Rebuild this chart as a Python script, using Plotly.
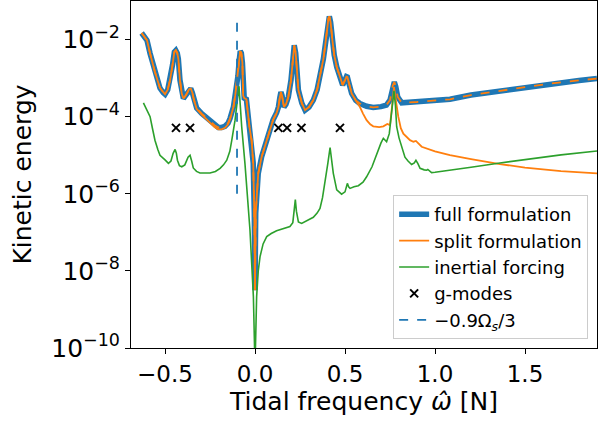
import plotly.graph_objects as go

# ---- data (log10 of kinetic energy) ----
full_x = [-0.63, -0.61, -0.60, -0.583, -0.556, -0.528, -0.51, -0.50, -0.485, -0.472, -0.458, -0.448,
          -0.44, -0.432, -0.426, -0.417, -0.407, -0.398, -0.385, -0.365, -0.357, -0.348, -0.339,
          -0.324, -0.296, -0.27, -0.25, -0.225, -0.204, -0.185, -0.167, -0.15, -0.139, -0.12,
          -0.11, -0.105, -0.10, -0.095, -0.088, -0.082, -0.076, -0.07, -0.066, -0.06, -0.048,
          -0.04, -0.03, -0.019, -0.01, -0.004, 0.0, 0.004, 0.01, 0.018, 0.037, 0.065, 0.10, 0.12,
          0.13, 0.138, 0.144, 0.15, 0.161, 0.172, 0.185, 0.20, 0.21, 0.218, 0.226, 0.233, 0.241,
          0.26, 0.278, 0.30, 0.324, 0.345, 0.361, 0.38, 0.389, 0.40, 0.408, 0.413, 0.42, 0.43,
          0.44, 0.454, 0.475, 0.487, 0.50, 0.508, 0.513, 0.52, 0.537, 0.56, 0.583, 0.62, 0.657,
          0.70, 0.73, 0.75, 0.765, 0.774, 0.782, 0.793, 0.815, 0.90, 1.0, 1.083, 1.2, 1.361,
          1.5, 1.639, 1.8, 1.9]
full_log = [-1.83, -1.95, -2.02, -2.36, -2.84, -3.26, -3.38, -3.42, -3.30, -3.05, -2.65, -2.32,
            -2.28, -2.35, -2.50, -3.05, -3.40, -3.53, -3.45, -3.28, -3.27, -3.38, -3.57,
            -3.78, -3.92, -4.03, -4.13, -4.22, -4.28, -4.28, -4.25, -4.17, -4.05, -3.75,
            -3.45, -3.23, -3.05, -2.95, -2.55, -2.30, -2.35, -2.60, -3.45, -3.52, -3.55,
            -3.90, -4.30, -4.61, -5.20, -6.50, -8.50, -6.50, -5.90, -5.47, -5.04, -4.61, -4.09, -3.90,
            -3.75, -3.50, -3.36, -3.45, -3.75, -3.68, -3.49, -3.05, -2.55, -2.15, -2.35, -2.90, -3.31,
            -3.65, -3.83, -3.75, -3.57, -3.30, -2.97, -2.50, -2.19, -1.75, -1.45, -1.40, -1.55, -2.02,
            -2.40, -2.71, -3.02, -3.18, -3.05, -2.96, -2.97, -3.10, -3.40, -3.58, -3.66, -3.73, -3.76,
            -3.74, -3.70, -3.57, -3.20, -3.10, -3.22, -3.49, -3.64, -3.62, -3.58, -3.55, -3.44, -3.33,
            -3.24, -3.14, -3.06, -3.01]

split_x = [-0.63, -0.61, -0.60, -0.583, -0.556, -0.528, -0.51, -0.50, -0.485, -0.472, -0.458, -0.448,
           -0.44, -0.432, -0.426, -0.417, -0.407, -0.398, -0.385, -0.365, -0.357, -0.348, -0.339,
           -0.324, -0.296, -0.27, -0.25, -0.225, -0.204, -0.185, -0.167, -0.15, -0.139, -0.12,
           -0.11, -0.105, -0.10, -0.095, -0.088, -0.082, -0.076, -0.07, -0.066, -0.06, -0.048,
           -0.04, -0.03, -0.019, -0.01, -0.004, 0.0, 0.004, 0.01, 0.018, 0.037, 0.065, 0.10, 0.12,
           0.13, 0.138, 0.144, 0.15, 0.161, 0.172, 0.185, 0.20, 0.21, 0.218, 0.226, 0.233, 0.241,
           0.26, 0.278, 0.30, 0.324, 0.345, 0.361, 0.38, 0.389, 0.40, 0.408, 0.413, 0.42, 0.43,
           0.44, 0.454, 0.475, 0.487, 0.50, 0.508, 0.513, 0.52, 0.537, 0.56, 0.583, 0.60, 0.62,
           0.64, 0.657, 0.69, 0.713, 0.735, 0.75, 0.76, 0.772, 0.78, 0.796, 0.81, 0.824, 0.861,
           0.88, 0.894, 0.91, 0.926, 1.0, 1.083, 1.2, 1.361, 1.5, 1.7, 1.9]
split_log = [-1.83, -1.95, -2.02, -2.36, -2.84, -3.26, -3.38, -3.42, -3.30, -3.05, -2.65, -2.32,
             -2.28, -2.35, -2.50, -3.05, -3.40, -3.53, -3.45, -3.28, -3.27, -3.38, -3.57,
             -3.80, -3.95, -4.07, -4.17, -4.27, -4.33, -4.33, -4.29, -4.20, -4.07, -3.75,
             -3.45, -3.23, -3.05, -2.95, -2.55, -2.30, -2.35, -2.60, -3.45, -3.52, -3.55,
             -3.90, -4.30, -4.61, -5.20, -6.50, -8.50, -6.50, -5.90, -5.47, -5.04, -4.61, -4.09, -3.90,
             -3.75, -3.50, -3.36, -3.45, -3.75, -3.68, -3.49, -3.05, -2.55, -2.15, -2.35, -2.90, -3.31,
             -3.65, -3.83, -3.75, -3.57, -3.30, -2.97, -2.50, -2.19, -1.75, -1.45, -1.40, -1.55, -2.02,
             -2.40, -2.71, -3.02, -3.18, -3.05, -2.96, -2.97, -3.10, -3.40, -3.58, -3.75, -3.92, -4.09,
             -4.20, -4.25, -4.27, -4.25, -4.19, -4.22, -3.80, -3.23, -3.50, -4.00, -4.30, -4.44, -4.61,
             -4.65, -4.63, -4.72, -4.78, -4.90, -5.00, -5.10, -5.23, -5.32, -5.41, -5.47]

inert_x = [-0.62, -0.60, -0.583, -0.57, -0.556, -0.54, -0.528, -0.50, -0.481, -0.467, -0.455, -0.444,
           -0.437, -0.431, -0.42, -0.407, -0.39, -0.372, -0.361, -0.352, -0.343, -0.325, -0.306,
           -0.25, -0.22, -0.194, -0.175, -0.157, -0.14, -0.129, -0.111, -0.098, -0.089, -0.082,
           -0.074, -0.056, -0.04, -0.028, -0.009, 0.0, 0.009, 0.018, 0.028, 0.045, 0.065, 0.09,
           0.12, 0.15, 0.194, 0.21, 0.218, 0.224, 0.23, 0.241, 0.259, 0.29, 0.324, 0.345, 0.361,
           0.375, 0.389, 0.405, 0.417, 0.425, 0.435, 0.454, 0.481, 0.50, 0.51, 0.513, 0.52, 0.528,
           0.55, 0.574, 0.60, 0.62, 0.65, 0.676, 0.70, 0.713, 0.725, 0.731, 0.746, 0.755, 0.765,
           0.772, 0.78, 0.787, 0.80, 0.815, 0.833, 0.85, 0.87, 0.885, 0.894, 0.905, 0.917, 0.94,
           0.954, 0.96, 0.981, 1.0, 1.083, 1.2, 1.361, 1.5, 1.7, 1.9]
inert_log = [-3.64, -3.82, -4.00, -4.30, -4.61, -4.85, -5.00, -5.12, -5.21, -5.15, -4.95, -4.85,
             -4.95, -5.13, -5.27, -5.30, -5.25, -5.05, -5.00, -5.15, -5.33, -5.42, -5.46,
             -5.46, -5.42, -5.34, -5.25, -5.13, -4.90, -4.61, -4.09, -3.57, -3.21, -3.70,
             -4.26, -5.21, -6.10, -6.94, -8.67, -10.5, -8.67, -8.00, -7.63, -7.30, -7.11, -7.03,
             -6.96, -6.91, -6.85, -6.75, -6.45, -6.15, -6.45, -6.73, -6.77, -6.70, -6.61, -6.50, -6.38,
             -6.10, -5.73, -5.20, -4.80, -5.05, -5.47, -5.90, -6.01, -5.95, -5.75, -5.73, -5.82, -5.86,
             -5.82, -5.79, -5.70, -5.56, -5.30, -4.95, -4.68, -4.56, -4.62, -4.65, -4.44, -4.10, -3.60,
             -3.33, -3.70, -4.26, -4.55, -4.78, -5.05, -5.15, -5.24, -5.20, -5.13, -5.22, -5.34, -5.38,
             -5.39, -5.37, -5.45, -5.44, -5.39, -5.31, -5.20, -5.11, -4.99, -4.89]

gmode_x = [-0.439, -0.361, 0.13, 0.178, 0.258, 0.472]
gmode_log = [-4.29, -4.29, -4.29, -4.29, -4.29, -4.29]

corot_x = [-0.1, -0.1]
corot_log = [-6.0, -1.4]

ytick_exp = [-10, -8, -6, -4, -2]
xtick_vals = [-0.5, 0.0, 0.5, 1.0, 1.5]
xtick_text = ["\u22120.5", "0.0", "0.5", "1.0", "1.5"]

BLUE, ORANGE, GREEN = "#1f77b4", "#ff7f0e", "#2ca02c"
FONT = "DejaVu Sans"


def lin(v):
    return [10 ** e for e in v]


fig = go.Figure()
fig.add_trace(go.Scatter(x=full_x, y=lin(full_log), mode="lines", name="full formulation",
                         line=dict(color=BLUE, width=5.5)))
fig.add_trace(go.Scatter(x=split_x, y=lin(split_log), mode="lines", name="split formulation",
                         line=dict(color=ORANGE, width=1.8)))
fig.add_trace(go.Scatter(x=full_x, y=lin(full_log), mode="lines", showlegend=False,
                         line=dict(color=ORANGE, width=1.8, dash="dash")))
fig.add_trace(go.Scatter(x=inert_x, y=lin(inert_log), mode="lines", name="inertial forcing",
                         line=dict(color=GREEN, width=1.6)))
fig.add_trace(go.Scatter(x=gmode_x, y=lin(gmode_log), mode="markers", name="g-modes",
                         marker=dict(symbol="x-thin", size=8, line=dict(color="black", width=2),
                                     color="black")))
fig.add_trace(go.Scatter(x=corot_x, y=lin(corot_log), mode="lines",
                         name="\u22120.9\u03a9<sub><i>s</i></sub>/3",
                         line=dict(color=BLUE, width=1.8, dash="dash")))

fig.update_layout(
    width=611, height=425,
    margin=dict(l=131, r=14, t=1, b=77),
    paper_bgcolor="white", plot_bgcolor="white",
    font=dict(family=FONT, size=23, color="black"),
    showlegend=True,
    legend=dict(x=0.981, y=0.026, xanchor="right", yanchor="bottom",
                bgcolor="rgba(255,255,255,0.85)", bordercolor="#cccccc", borderwidth=1,
                font=dict(family=FONT, size=18, color="black"), tracegroupgap=0),
    xaxis=dict(range=[-0.689, 1.9], tickvals=xtick_vals, ticktext=xtick_text,
               showline=True, mirror=True, linecolor="black", linewidth=1,
               ticks="outside", ticklen=5, tickcolor="black", showgrid=False, zeroline=False,
               tickfont=dict(size=23),
               title=dict(text="Tidal frequency <i>\u03c9\u0302</i> [N]", standoff=6,
                          font=dict(size=25))),
    yaxis=dict(type="log", range=[-10, -1.0],
               tickvals=[10 ** e for e in ytick_exp],
               ticktext=["10<sup>\u2212%d</sup>" % (-e) for e in ytick_exp],
               showline=True, mirror=True, linecolor="black", linewidth=1,
               ticks="outside", ticklen=5, tickcolor="black", showgrid=False, zeroline=False,
               tickfont=dict(size=25),
               title=dict(text="Kinetic energy", standoff=12, font=dict(size=25))),
)

fig.write_html("out.html")
